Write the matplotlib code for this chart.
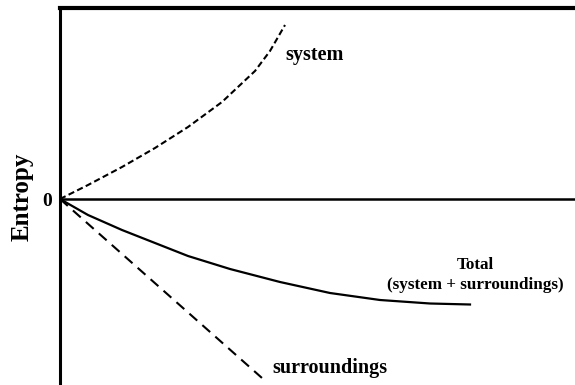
import matplotlib
matplotlib.use("Agg")
import matplotlib.pyplot as plt

# values (arbitrary units, origin at the 0 line)
systemX = [0, 28, 62, 95, 128, 162, 195, 210, 225]
systemY = [0, 14, 32, 51, 72, 97, 128, 148, 174]

surroundX = [0, 202]
surroundY = [0, -179]

totalX = [0, 28, 62, 95, 128, 170, 220, 270, 320, 370, 410]
totalY = [0, -16, -31, -44, -57, -70, -83, -94, -101, -104.5, -105.5]

plt.rcParams['font.family'] = ['Liberation Serif', 'DejaVu Serif']
plt.rcParams['font.weight'] = 'bold'

fig = plt.figure(figsize=(5.75, 3.85), dpi=100)
ax = fig.add_axes([60/575, 0, 515/575, 377/385])

ax.plot(systemX, systemY, color="black", linestyle=(0, (3, 1.6)), linewidth=1.5)
ax.plot(surroundX, surroundY, color="black", linestyle=(0, (5, 3.3)), linewidth=1.5)
ax.plot(totalX, totalY, color="black", linewidth=1.6)
ax.axhline(0, color="black", linewidth=1.8)

ax.set_xlim(0, 515)
ax.set_ylim(-186, 191)

ax.text(225, 144, "system", fontsize=14.5, fontweight="bold", va="center", ha="left")
ax.text(212, -169, "surroundings", fontsize=14.5, fontweight="bold", va="center", ha="left")
ax.text(415, -66, "Total", fontsize=12.3, fontweight="bold", va="center", ha="center")
ax.text(415, -86, "(system + surroundings)", fontsize=12.3, fontweight="bold", va="center", ha="center")

ax.set_xticks([])
ax.set_yticks([0])
ax.set_yticklabels(["0"], fontsize=14, fontweight="bold")
ax.tick_params(axis="y", length=0, pad=6)
ax.set_ylabel("Entropy", fontsize=18, fontweight="bold", labelpad=6)

for side in ["right", "bottom"]:
    ax.spines[side].set_visible(False)
ax.spines["left"].set_linewidth(2.2)
ax.spines["top"].set_linewidth(3)

fig.savefig("out.png", dpi=100)
